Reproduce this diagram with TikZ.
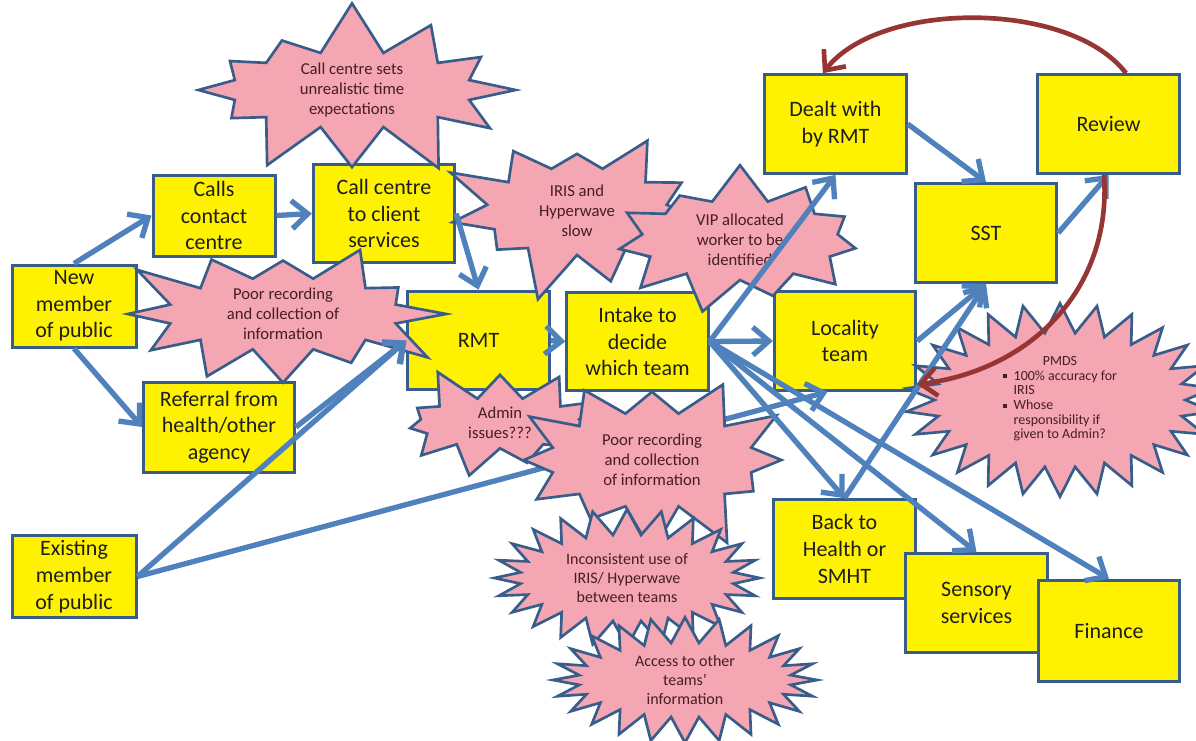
\documentclass[tikz,border=0pt]{standalone}
\usepackage{fontspec}
\setmainfont{Carlito}
\usetikzlibrary{shapes.symbols,arrows.meta}

\definecolor{boxline}{RGB}{56,93,138}
\definecolor{flowblue}{RGB}{79,129,189}
\definecolor{burstpink}{RGB}{244,166,178}
\definecolor{loopred}{RGB}{150,54,52}
\definecolor{bursttext}{RGB}{70,30,35}
\newcommand{\pmdsbullet}{\rule[0.3ex]{3pt}{3pt}}

\tikzset{
  stage/.style={draw=boxline, line width=2.25pt, fill=yellow, align=center, inner sep=0pt,
    text={rgb,255:red,30;green,30;blue,30}, font=\fontsize{16.5}{20}\selectfont,
    minimum width=106pt, minimum height=74pt},
  issue/.style={starburst, draw=boxline, line width=2pt, fill=burstpink, align=center,
    text=bursttext, font=\fontsize{12.5}{15}\selectfont, inner sep=0pt},
  flow/.style={draw=flowblue, line width=4pt, -{Straight Barb[length=12pt,width=21pt]}},
  feedback/.style={draw=loopred, line width=3.5pt, -{Straight Barb[length=12pt,width=21pt]}},
}

\begin{document}
\begin{tikzpicture}[x=0.75pt,y=0.75pt,yscale=-1,xscale=1]
\useasboundingbox (0,0) rectangle (1196,740);

% Boxes
\node[stage, minimum width=93pt, minimum height=61.5pt] (newm) at (74,306) {New\\member\\of public};
\node[stage, minimum width=91.5pt, minimum height=60.75pt] (calls) at (214,215.5) {Calls\\contact\\centre};
\node[stage] (ccs) at (384,213.5) {Call centre\\to client\\services};
\node[stage, minimum width=113pt, minimum height=67.5pt] (referral) at (219,427) {Referral from\\health/other\\agency};
\node[stage, minimum width=93pt, minimum height=61pt] (existing) at (74,576.5) {Existing\\member\\of public};
\node[stage] (rmt) at (478.5,340.5) {RMT};
\node[stage] (intake) at (637.5,341.5) {Intake to\\decide\\which team};
\node[stage] (dealt) at (835.5,124) {Dealt with\\by RMT};
\node[stage] (review) at (1108.5,124) {Review};
\node[stage] (sst) at (986,233) {SST};
\node[stage] (locality) at (845,341) {Locality\\team};
\node[stage] (back) at (844.5,549) {Back to\\Health or\\SMHT};
\node[stage] (sensory) at (976.5,603) {Sensory\\services};
\node[stage, minimum height=76pt] (finance) at (1109,631) {Finance};

% line that runs under the bursts
\draw[flow] (existing.east) -- (locality.-109);

% Issue bursts
\node[issue, starburst points=12, starburst point height=40pt, random starburst=7,
  minimum width=262pt, minimum height=124pt] (cctime) at (352,90) {Call centre sets\\unrealistic time\\expectations};
\node[issue, starburst points=12, starburst point height=40pt, random starburst=3,
  minimum width=255pt, minimum height=128pt] (poorleft) at (283,314) {Poor recording\\and collection of\\information};
\node[issue, starburst points=11, starburst point height=38pt, random starburst=23,
  minimum width=212pt, minimum height=142pt] (iris) at (577,211) {IRIS and\\Hyperwave\\slow};
\node[issue, starburst points=11, starburst point height=38pt, random starburst=31,
  minimum width=224pt, minimum height=136pt] (vip) at (740,240) {VIP allocated\\worker to be\\identified};
\node[issue, starburst points=11, starburst point height=28pt, random starburst=5,
  minimum width=176pt, minimum height=94pt] (admin) at (500,423) {Admin\\issues???};
\node[issue, starburst points=12, starburst point height=36pt, random starburst=19,
  minimum width=226pt, minimum height=144pt] (poormid) at (652,460) {Poor recording\\and collection\\of information};
\node[issue, starburst points=24, starburst point height=19pt, random starburst=0,
  minimum width=199pt, minimum height=103pt, font=\fontsize{12}{14}\selectfont] (inconsistent) at (627,578) {Inconsistent use of\\IRIS/ Hyperwave\\between teams};
\node[issue, starburst points=24, starburst point height=19pt, random starburst=0,
  minimum width=198pt, minimum height=94pt, font=\fontsize{12}{14}\selectfont] (access) at (685,680) {Access to other\\teams'\\information};
\node[issue, starburst points=26, starburst point height=22pt, random starburst=0,
  minimum width=232pt, minimum height=145pt, font=\fontsize{10.5}{11}\selectfont] (pmds) at (1060,400) {PMDS\\[2pt]\begin{tabular}{@{}l@{\hspace{5pt}}l@{}}\pmdsbullet & 100\% accuracy for\\ & IRIS\\ \pmdsbullet & Whose\\ & responsibility if\\ & given to Admin?\end{tabular}};

% Flow arrows
\draw[flow] (newm.north) -- (calls.west);
\draw[flow] (newm.south) -- (referral.west);
\draw[flow] (calls.east) -- (ccs.west);
\draw[flow] (ccs.east) -- (rmt.north);
\draw[flow] (referral.east) -- (rmt.west);
\draw[flow] (existing.east) -- (rmt.west);
\draw[flow] (rmt.east) -- (intake.west);
\draw[flow] (intake.east) -- (dealt.south);
\draw[flow] (intake.east) -- (locality.west);
\draw[flow] (intake.east) -- (back.north);
\draw[flow] (intake.east) -- (sensory.north);
\draw[flow] (intake.east) -- (finance.north);
\draw[flow] (locality.east) -- (sst.south);
\draw[flow] (back.north) -- (sst.south);
\draw[flow] (dealt.east) -- (sst.north);
\draw[flow] (sst.east) -- (review.south);

% Review loops
\draw[feedback] (review.71) .. controls (1070,0) and (880,0) .. (dealt.104);
\draw[feedback] (review.-95) .. controls (1112,290) and (1030,370) .. (locality.-31);

\end{tikzpicture}
\end{document}
